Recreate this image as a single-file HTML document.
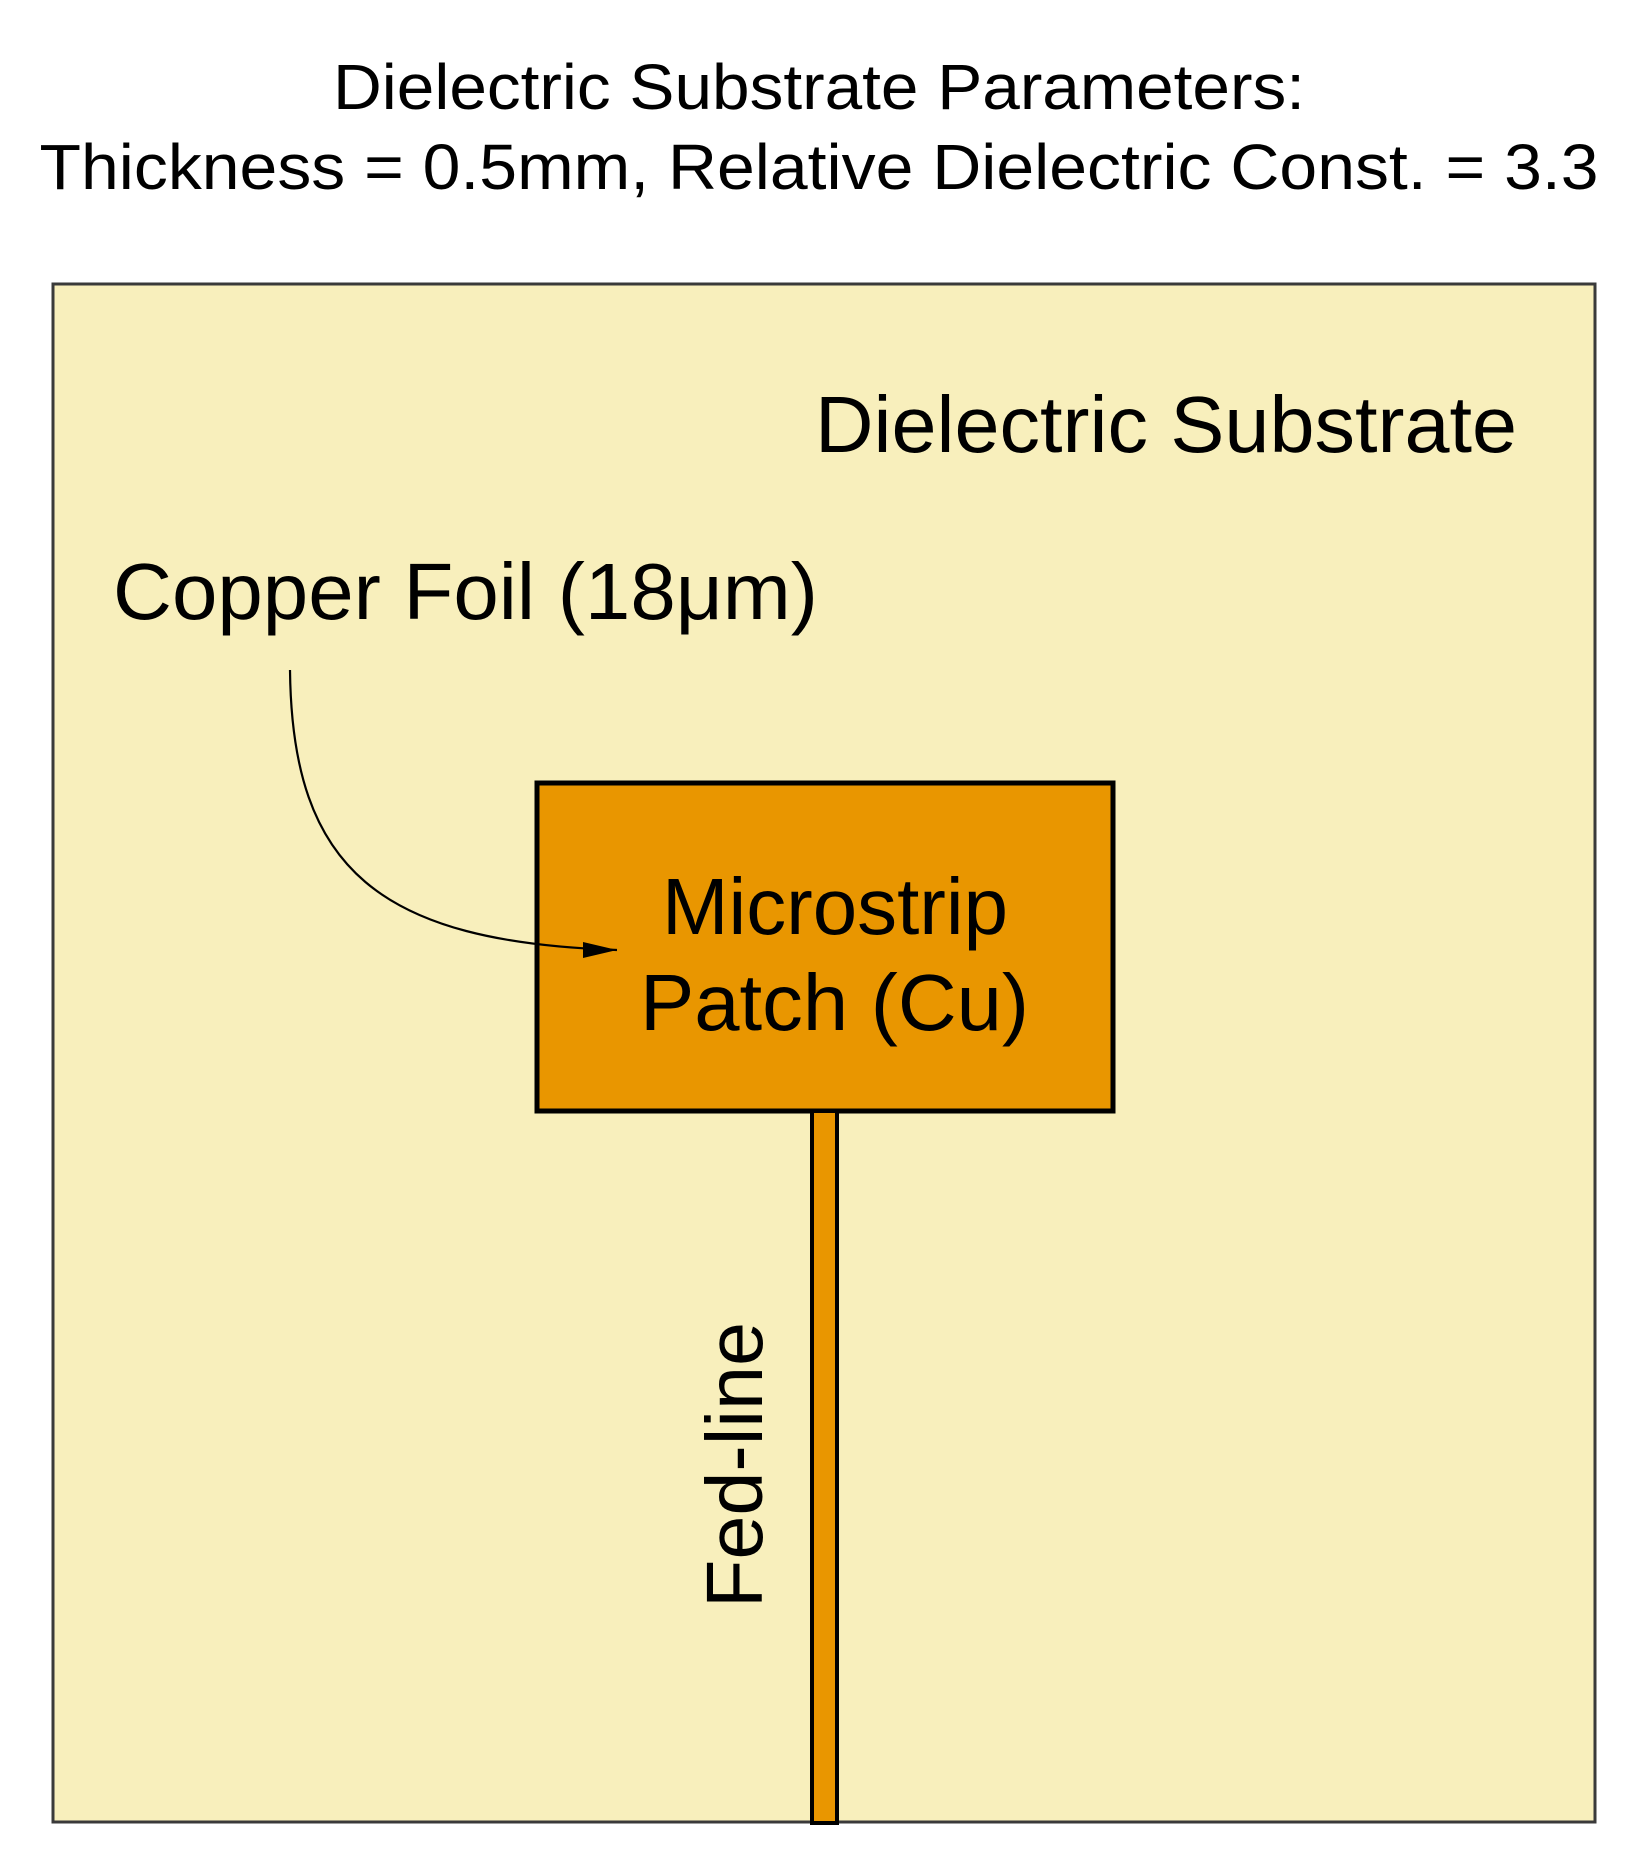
<!DOCTYPE html>
<html><head><meta charset="utf-8"><style>html,body{margin:0;padding:0;background:#fff}svg{display:block}</style></head>
<body>
<svg width="1633" height="1865" viewBox="0 0 1633 1865" xmlns="http://www.w3.org/2000/svg" font-family="Liberation Sans, Arial, sans-serif">
<defs><marker id="ah" markerWidth="10" markerHeight="8" refX="9" refY="4" orient="auto" markerUnits="userSpaceOnUse" viewBox="0 0 10 8"><path d="M0,0 L10,4 L0,8 z" fill="#000"/></marker></defs>
<text x="819" y="109" font-size="64" text-anchor="middle" textLength="972" lengthAdjust="spacingAndGlyphs">Dielectric Substrate Parameters:</text>
<text x="819" y="189" font-size="64" text-anchor="middle" textLength="1559" lengthAdjust="spacingAndGlyphs">Thickness = 0.5mm, Relative Dielectric Const. = 3.3</text>
<rect x="53" y="284" width="1542" height="1538" fill="#f8efbc" stroke="#3a3a3a" stroke-width="3"/>
<text x="815" y="452" font-size="80" textLength="702" lengthAdjust="spacingAndGlyphs">Dielectric Substrate</text>
<text x="113" y="619" font-size="80" textLength="705" lengthAdjust="spacingAndGlyphs">Copper Foil (18μm)</text>
<rect x="537" y="783" width="576" height="328" fill="#e99600" stroke="#000" stroke-width="5"/>
<rect x="812" y="1111" width="25" height="712" fill="#e99600" stroke="#000" stroke-width="4"/>
<path d="M290,670 C292,870 380,942 617,950" fill="none" stroke="#000" stroke-width="2.2"/>
<path d="M583,942 L617,950 L583,958 z" fill="#000"/>
<text x="662" y="934" font-size="80" textLength="346" lengthAdjust="spacingAndGlyphs">Microstrip</text>
<text x="640" y="1030" font-size="80" textLength="389" lengthAdjust="spacingAndGlyphs">Patch (Cu)</text>
<text transform="translate(762,1608) rotate(-90)" x="0" y="0" font-size="80" textLength="286" lengthAdjust="spacingAndGlyphs">Fed-line</text>
</svg>
</body></html>
